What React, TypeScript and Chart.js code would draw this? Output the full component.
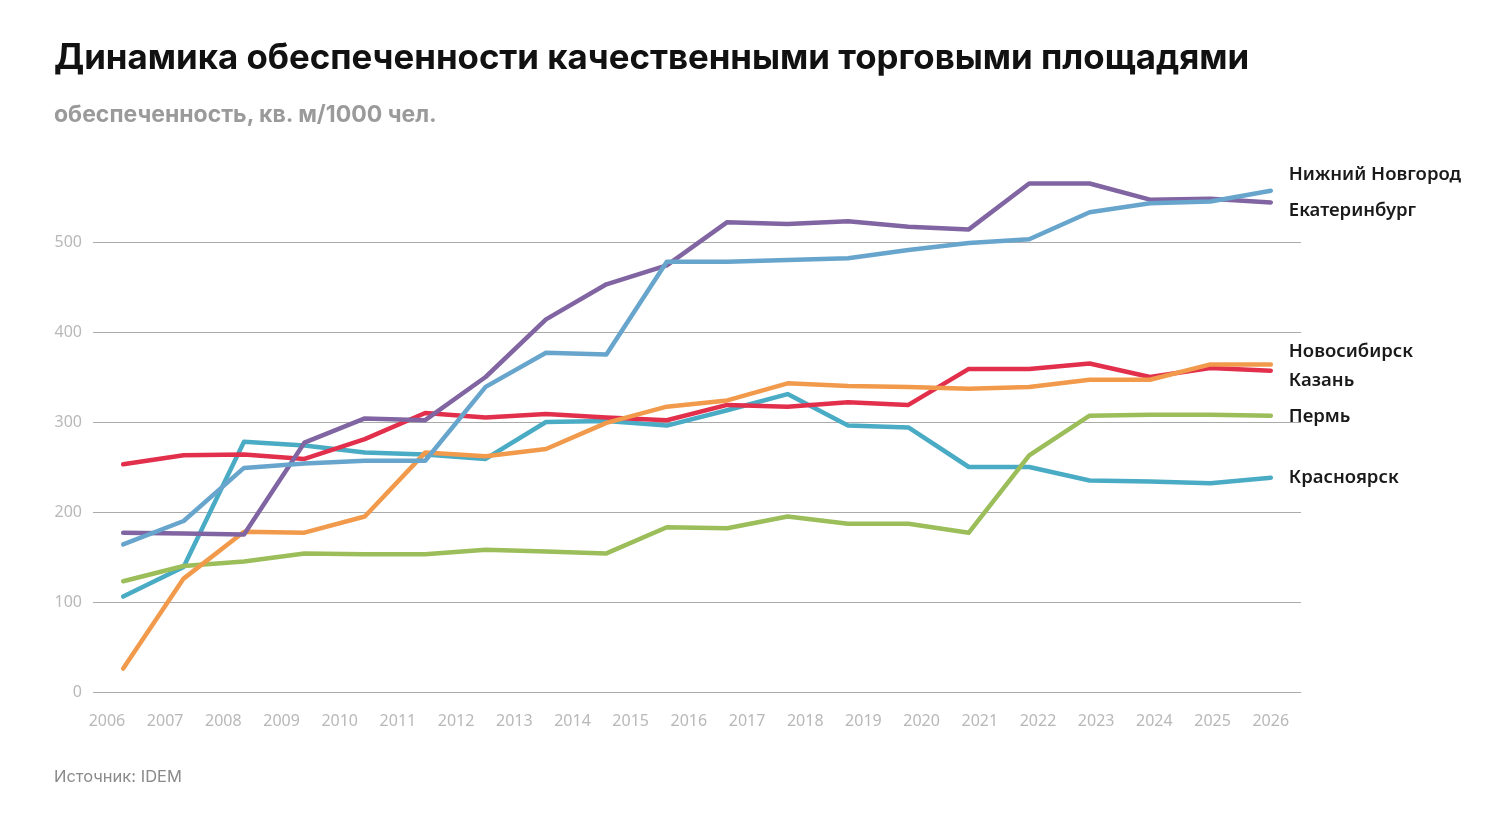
import React, { useRef, useEffect } from 'react';
import { Chart, registerables } from 'chart.js';

Chart.register(...registerables);

// years of the data points (20 points)
const years = [
    '2007', '2008', '2009', '2010', '2011', '2012', '2013', '2014', '2015', '2016',
    '2017', '2018', '2019', '2020', '2021', '2022', '2023', '2024', '2025', '2026',
];

// visible tick labels on the bottom axis
const tickYears = [
    2006, 2007, 2008, 2009, 2010, 2011, 2012, 2013, 2014, 2015, 2016,
    2017, 2018, 2019, 2020, 2021, 2022, 2023, 2024, 2025, 2026,
];

const yTicks = [0, 100, 200, 300, 400, 500];

const nizhnyNovgorod = [164, 190, 249, 254, 257, 257, 339, 377, 375, 478, 478, 480, 482, 491, 499, 503, 533, 543, 545, 557];
const ekaterinburg = [177, 176, 175, 277, 304, 302, 350, 414, 453, 474, 522, 520, 523, 517, 514, 565, 565, 547, 548, 544];
const novosibirsk = [26, 126, 178, 177, 195, 266, 262, 270, 299, 317, 324, 343, 340, 339, 337, 339, 347, 347, 364, 364];
const kazan = [253, 263, 264, 259, 281, 310, 305, 309, 305, 302, 319, 317, 322, 319, 359, 359, 365, 350, 360, 357];
const perm = [123, 140, 145, 154, 153, 153, 158, 156, 154, 183, 182, 195, 187, 187, 177, 263, 307, 308, 308, 307];
const krasnoyarsk = [106, 139, 278, 274, 266, 264, 259, 300, 301, 296, 313, 331, 296, 294, 250, 250, 235, 234, 232, 238];

const series = [
    { label: 'Нижний Новгород', data: nizhnyNovgorod, color: '#68a5cd', shift: -16 },
    { label: 'Екатеринбург', data: ekaterinburg, color: '#8165a2', shift: 8 },
    { label: 'Новосибирск', data: novosibirsk, color: '#f29a4c', shift: -13 },
    { label: 'Казань', data: kazan, color: '#e2304c', shift: 10 },
    { label: 'Пермь', data: perm, color: '#9bbd5a', shift: 1 },
    { label: 'Красноярск', data: krasnoyarsk, color: '#4aabc5', shift: 0 },
];

// city names at the right end of each line
const endLabels = {
    id: 'endLabels',
    afterDatasetsDraw(chart: any) {
        const ctx = chart.ctx;
        ctx.save();
        ctx.font = '600 18.5px "Noto Sans"';
        ctx.fillStyle = '#1a1a1a';
        ctx.textBaseline = 'middle';
        ctx.textAlign = 'left';
        series.forEach((s, i) => {
            const meta = chart.getDatasetMeta(i);
            const pt = meta.data[meta.data.length - 1];
            ctx.fillText(s.label, pt.x + 18, pt.y + s.shift);
        });
        ctx.restore();
    },
};

const tickFont = { family: '"Noto Sans"', size: 16 };

const LineChart: React.FC = () => {
    const chartRef = useRef<HTMLCanvasElement>(null);
    const chartInstance = useRef<Chart | null>(null);

    useEffect(() => {
        if (!chartRef.current) return;
        chartInstance.current?.destroy();

        chartInstance.current = new Chart(chartRef.current, {
            type: 'line',
            data: {
                labels: years,
                datasets: series.map((s) => ({
                    label: s.label,
                    data: s.data,
                    borderColor: s.color,
                    backgroundColor: s.color,
                    borderWidth: 4.5,
                    borderCapStyle: 'round',
                    borderJoinStyle: 'round',
                    pointRadius: 0,
                    tension: 0,
                    xAxisID: 'x',
                })),
            },
            options: {
                responsive: false,
                animation: false,
                layout: { padding: { left: 0, right: 199, top: 152, bottom: 0 } },
                plugins: {
                    legend: { display: false },
                    tooltip: { enabled: false },
                },
                scales: {
                    x: {
                        type: 'category',
                        display: false,
                        offset: true,
                    },
                    x2: {
                        type: 'linear',
                        position: 'bottom',
                        min: 2005.76,
                        max: 2026.52,
                        afterBuildTicks: (axis: any) => {
                            axis.ticks = tickYears.map((v) => ({ value: v }));
                        },
                        afterFit: (axis: any) => {
                            axis.height = 141;
                        },
                        grid: { display: false },
                        border: { display: false },
                        ticks: {
                            autoSkip: false,
                            maxRotation: 0,
                            padding: 12,
                            color: '#b8b8b8',
                            font: tickFont,
                            callback: (v: any) => String(v),
                        },
                    },
                    y: {
                        min: 0,
                        max: 600,
                        afterBuildTicks: (axis: any) => {
                            axis.ticks = yTicks.map((v) => ({ value: v }));
                        },
                        afterFit: (axis: any) => {
                            axis.width = 93;
                        },
                        grid: { color: '#aaaaaa', lineWidth: 1, drawTicks: false },
                        border: { display: false },
                        ticks: {
                            padding: 11,
                            color: '#b8b8b8',
                            font: tickFont,
                        },
                    },
                },
            },
            plugins: [endLabels],
        });

        return () => {
            chartInstance.current?.destroy();
            chartInstance.current = null;
        };
    }, []);

    return <canvas ref={chartRef} width={1500} height={833} style={{ position: 'absolute', left: 0, top: 0 }} />;
};

const App: React.FC = () => (
    <div
        style={{
            position: 'absolute',
            left: 0,
            top: 0,
            width: 1500,
            height: 833,
            background: '#ffffff',
            fontFamily: 'Inter, "Noto Sans", sans-serif',
            overflow: 'hidden',
        }}
    >
        <LineChart />
        <div
            style={{
                position: 'absolute',
                left: 54,
                top: 35,
                fontSize: 34.8,
                fontWeight: 700,
                color: '#111111',
                whiteSpace: 'nowrap',
            }}
        >
            Динамика обеспеченности качественными торговыми площадями
        </div>
        <div
            style={{
                position: 'absolute',
                left: 54,
                top: 100,
                fontSize: 23,
                fontWeight: 700,
                color: '#9a9a9a',
                whiteSpace: 'nowrap',
            }}
        >
            обеспеченность, кв. м/1000 чел.
        </div>
        <div
            style={{
                position: 'absolute',
                left: 54,
                top: 766,
                fontSize: 16.5,
                color: '#8a8a8a',
                whiteSpace: 'nowrap',
            }}
        >
            Источник: IDEM
        </div>
    </div>
);

export default App;
